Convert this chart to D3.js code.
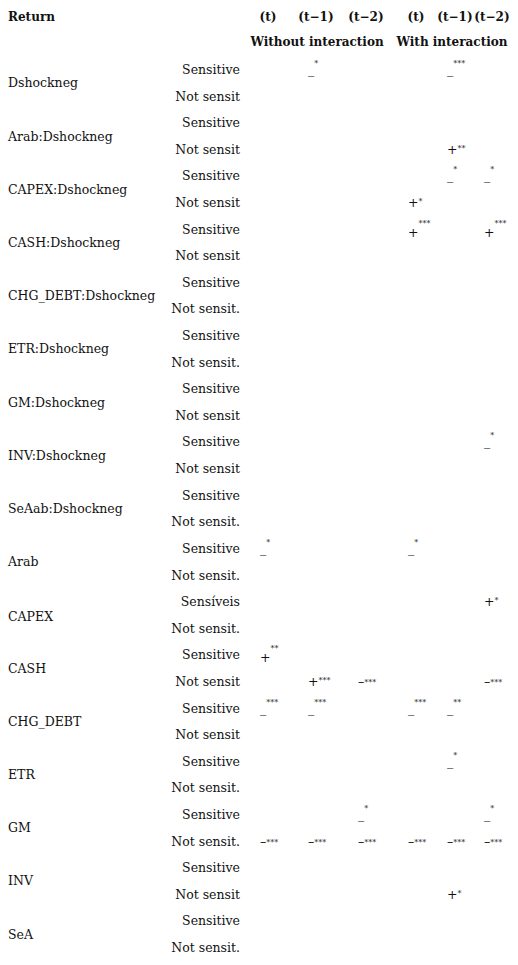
<!DOCTYPE html><html><head><meta charset="utf-8"><script src="https://cdn.jsdelivr.net/npm/d3@7"></script>
<style>body{margin:0;background:#fff}text{font-family:"DejaVu Serif",serif;fill:#111}</style></head><body><svg id="c" width="518" height="965"></svg>
<script>
const periods=["(t)","(t\u22121)","(t\u22122)","(t)","(t\u22121)","(t\u22122)"];
const groups=["Without interaction","With interaction"];
const variables=["Dshockneg","Arab:Dshockneg","CAPEX:Dshockneg","CASH:Dshockneg","CHG_DEBT:Dshockneg","ETR:Dshockneg","GM:Dshockneg","INV:Dshockneg","SeAab:Dshockneg","Arab","CAPEX","CASH","CHG_DEBT","ETR","GM","INV","SeA"];
const sensLabels=["Sensitive","Sensitive","Sensitive","Sensitive","Sensitive","Sensitive","Sensitive","Sensitive","Sensitive","Sensitive","Sensíveis","Sensitive","Sensitive","Sensitive","Sensitive","Sensitive","Sensitive"];
const notLabels=["Not sensit","Not sensit","Not sensit","Not sensit","Not sensit.","Not sensit.","Not sensit","Not sensit","Not sensit.","Not sensit.","Not sensit.","Not sensit","Not sensit","Not sensit.","Not sensit.","Not sensit","Not sensit."];
// cells: [variableIndex, subRow(0 sens,1 not), column, sign, stars]
const cells=[
[0,0,1,"_","*"],[0,0,4,"_","***"],
[1,1,4,"+i","**"],
[2,0,4,"_","*"],[2,0,5,"_","*"],[2,1,3,"+i","*"],
[3,0,3,"+","***"],[3,0,5,"+","***"],
[7,0,5,"_","*"],
[9,0,0,"_","*"],[9,0,3,"_","*"],
[10,0,5,"+i","*"],
[11,0,0,"+","**"],[11,1,1,"+i","***"],[11,1,2,"-","***"],[11,1,5,"-","***"],
[12,0,0,"_","***"],[12,0,1,"_","***"],[12,0,3,"_","***"],[12,0,4,"_","**"],
[13,0,4,"_","*"],
[14,0,2,"_","*"],[14,0,5,"_","*"],
[14,1,0,"-","***"],[14,1,1,"-","***"],[14,1,2,"-","***"],[14,1,3,"-","***"],[14,1,4,"-","***"],[14,1,5,"-","***"],
[15,1,4,"+i","*"]];
const svg=d3.select("#c");
const y=d3.scalePoint().domain(d3.range(variables.length*2)).range([70,948]);
const x=d3.scaleOrdinal().domain(d3.range(6)).range([268,316,366,416,455,492]);
svg.append("text").attr("x",8).attr("y",21).attr("font-weight","bold").attr("font-size",12).text("Return");
svg.selectAll(".ph").data(periods).join("text").attr("x",(d,i)=>x(i)).attr("y",21).attr("text-anchor","middle").attr("font-weight","bold").attr("font-size",12).text(d=>d);
svg.selectAll(".gh").data(groups).join("text").attr("x",(d,i)=>i?452:317).attr("y",46).attr("text-anchor","middle").attr("font-weight","bold").attr("font-size",12).text(d=>d);
svg.selectAll(".vl").data(variables).join("text").attr("x",8).attr("y",(d,i)=>(y(2*i)+y(2*i+1))/2+4+(i==10?2:0)).attr("font-size",12.5).text(d=>d);
svg.selectAll(".sl").data(sensLabels).join("text").attr("x",240).attr("y",(d,i)=>y(2*i)+4).attr("text-anchor","end").attr("font-size",12.5).text(d=>d);
svg.selectAll(".nl").data(notLabels).join("text").attr("x",240).attr("y",(d,i)=>y(2*i+1)+4).attr("text-anchor","end").attr("font-size",12.5).text(d=>d);
const g=svg.selectAll(".cell").data(cells).join("text").attr("font-size",12.5)
 .attr("x",d=>x(d[2])-8).attr("y",d=>y(2*d[0]+d[1])+4);
g.each(function(d){
 const t=d3.select(this);
 if(d[3]=="_"){t.append("tspan").attr("dy",0).text("_");t.append("tspan").attr("dy",-8).attr("font-size",8).text(d[4]);}
 else if(d[3]=="+"){t.append("tspan").attr("dy",3).text("+");t.append("tspan").attr("dy",-11).attr("font-size",8).text(d[4]);}
 else if(d[3]=="-"){t.append("tspan").text("\u2013");t.append("tspan").attr("font-size",8).attr("dy",-1).text(d[4]);}
 else {t.append("tspan").text("+");t.append("tspan").attr("font-size",8).attr("dy",-3).text(d[4]);}
});
</script></body></html>
